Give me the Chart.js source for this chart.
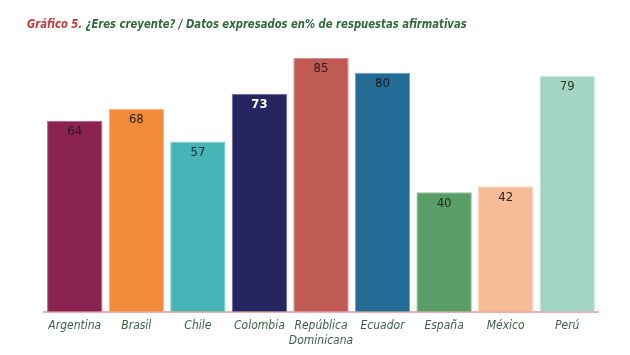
<!DOCTYPE html>
<html><head><meta charset="utf-8">
<script src="https://cdn.jsdelivr.net/npm/chart.js@4/dist/chart.umd.min.js"></script>
<style>html,body{margin:0;padding:0;background:#fff}#wrap{width:630px;height:355px}</style>
</head><body><div id="wrap"><canvas id="c" width="630" height="355"></canvas></div>
<script>
const categories = ['Argentina','Brasil','Chile','Colombia',['República','Dominicana'],'Ecuador','España','México','Perú'];
const values = [64,68,57,73,85,80,40,42,79];
const titlePrefix = 'Gráfico 5.';
const titleText = ' ¿Eres creyente? / Datos expresados en% de respuestas afirmativas';

const barColors = ['#8A2350','#EF8B3B','#47B4B8','#252661','#C05A55','#236C95','#5A9E67','#F6BC98','#A4D4C3'];
const borderColors = ['#B45C80','#F6B585','#8CD3D5','#6A6A9C','#DB8E8A','#6FA2C2','#8DC398','#FAD6C0','#CBE8DE'];
const labelColors = ['#2a1a22','#2a1a10','#1f2f2f','#ffffff','#2a1a1a','#101820','#1a2a1a','#2a2020','#2a3a30'];
const condensed = "'Liberation Sans Narrow','DejaVu Sans Condensed','Noto Sans',sans-serif";

const overlay = {
  id: 'overlay',
  afterDraw(chart) {
    const ctx = chart.ctx;
    ctx.save();
    ctx.textBaseline = 'alphabetic';
    ctx.translate(27, 28);
    ctx.scale(0.86, 1);
    ctx.font = "italic bold 13px " + condensed;
    ctx.fillStyle = '#C2393A';
    ctx.fillText(titlePrefix, 0, 0);
    const w = ctx.measureText(titlePrefix).width;
    ctx.fillStyle = '#2C6A3C';
    ctx.fillText(titleText, w, 0);
    ctx.restore();
    ctx.save();
    const meta = chart.getDatasetMeta(0);
    ctx.textAlign = 'center';
    ctx.textBaseline = 'middle';
    meta.data.forEach((bar, i) => {
      ctx.font = (i === 3 ? 'bold ' : '') + "13px " + condensed;
      ctx.fillStyle = labelColors[i];
      ctx.fillText(String(values[i]), bar.x, bar.y + 11);
    });
    ctx.restore();
  }
};

new Chart(document.getElementById('c'), {
  type: 'bar',
  data: {
    labels: categories,
    datasets: [{
      data: values,
      backgroundColor: barColors,
      borderColor: borderColors,
      borderWidth: 1,
      categoryPercentage: 0.9,
      barPercentage: 1.0
    }]
  },
  options: {
    responsive: false,
    animation: false,
    layout: { padding: { top: 43, left: 44, right: 32, bottom: 0 } },
    plugins: { legend: { display: false }, tooltip: { enabled: false }, title: { display: false } },
    scales: {
      x: {
        grid: { display: false, drawTicks: false },
        border: { display: true, color: '#E7AFAF', width: 2 },
        ticks: {
          color: '#3D5E4C',
          padding: 6,
          maxRotation: 0,
          autoSkip: false,
          font: { family: condensed, size: 12, style: 'italic', lineHeight: 1.3 }
        }
      },
      y: {
        display: false,
        min: 0,
        max: 90
      }
    }
  },
  plugins: [overlay]
});
</script>
</body></html>
